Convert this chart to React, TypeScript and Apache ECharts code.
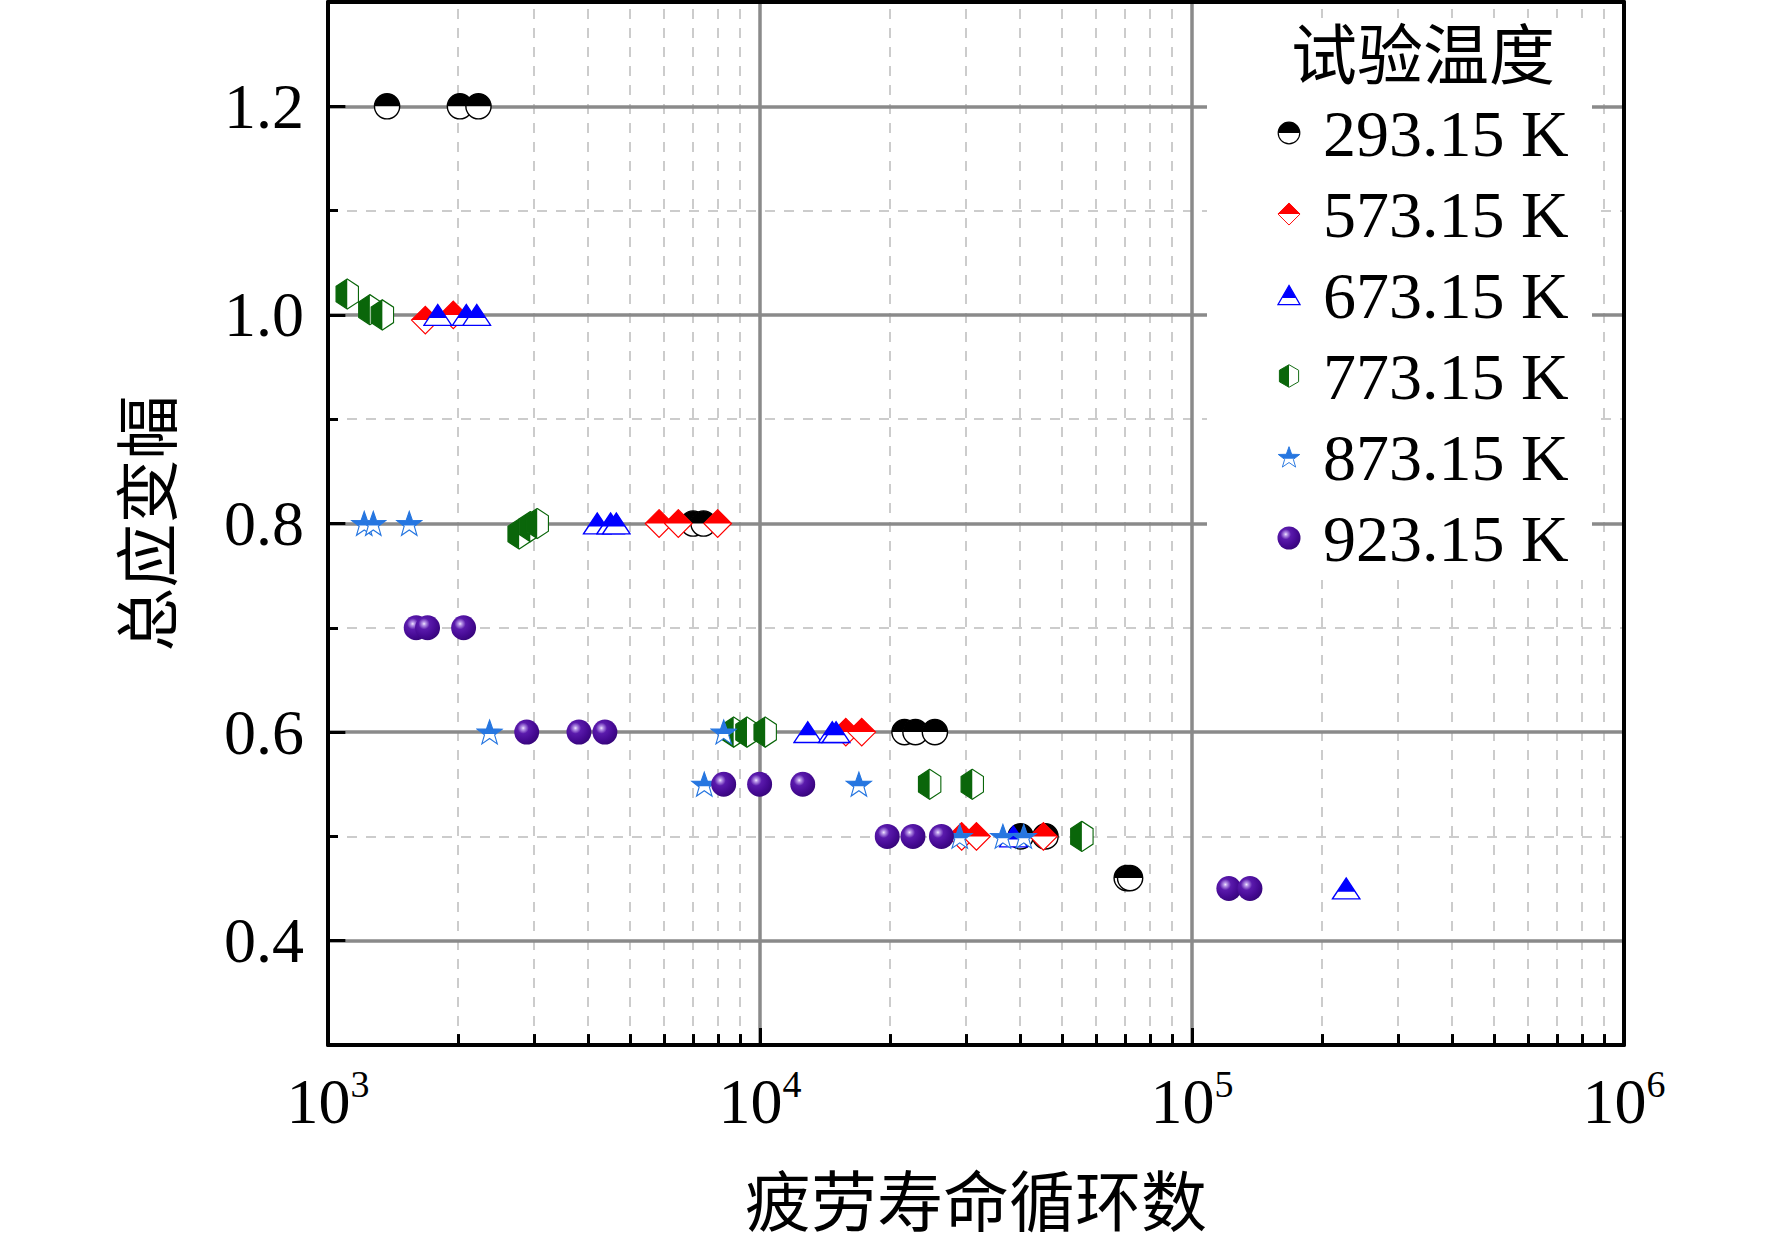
import React, { useEffect, useRef } from 'react';
import * as echarts from 'echarts';

const W = 1772;
const H = 1247;

const seriesNames = ['293.15 K', '573.15 K', '673.15 K', '773.15 K', '873.15 K', '923.15 K'];

// [fatigue life (cycles), total strain amplitude]
const data293 = [
  [1370, 1.2], [2020, 1.2], [2230, 1.2],
  [7000, 0.8], [7400, 0.8],
  [21600, 0.6], [22900, 0.6], [25400, 0.6],
  [40100, 0.5], [45800, 0.5],
  [70600, 0.46], [71900, 0.46],
];
const data573 = [
  [1680, 0.995], [1950, 1.0],
  [5840, 0.8], [6470, 0.8], [7980, 0.8],
  [15800, 0.6], [17200, 0.6],
  [29300, 0.5], [31700, 0.5], [45300, 0.5],
];
const data673 = [
  [1795, 1.0], [2090, 1.0], [2210, 1.0],
  [4200, 0.8], [4510, 0.8], [4650, 0.8],
  [12900, 0.6], [14700, 0.6], [15000, 0.6],
  [38600, 0.5],
  [227500, 0.45],
];
const data773 = [
  [1108, 1.02], [1250, 1.005], [1336, 1.0],
  [2770, 0.79], [2940, 0.797], [3050, 0.8],
  [8690, 0.6], [9330, 0.6], [10280, 0.6],
  [24700, 0.55], [31000, 0.55],
  [55600, 0.5],
];
const data873 = [
  [1213, 0.8], [1273, 0.8], [1542, 0.8],
  [2366, 0.6], [8240, 0.6],
  [7430, 0.55], [16940, 0.55],
  [29000, 0.5], [36500, 0.5], [40800, 0.5],
];
const data923 = [
  [1600, 0.7], [1700, 0.7], [2060, 0.7],
  [2884, 0.6], [3810, 0.6], [4375, 0.6],
  [8240, 0.55], [9980, 0.55], [12560, 0.55],
  [19700, 0.5], [22600, 0.5], [26300, 0.5],
  [121700, 0.45], [136200, 0.45],
];

const xMajor = [10000, 100000];
const xMinor = [2000, 3000, 4000, 5000, 6000, 7000, 8000, 9000,
  20000, 30000, 40000, 50000, 60000, 70000, 80000, 90000,
  200000, 300000, 400000, 500000, 600000, 700000, 800000, 900000];
const yMajor = [0.4, 0.6, 0.8, 1.0, 1.2];
const yMinor = [0.5, 0.7, 0.9, 1.1];

const SERIF = '"Liberation Serif", "Times New Roman", serif';
const CJK = '"Noto Sans CJK SC", sans-serif';

const url = (svg: string) =>
  'image://data:image/svg+xml;charset=utf-8,' + encodeURIComponent(svg);

const NS = 'xmlns="http://www.w3.org/2000/svg"';

const symCircle = url(
  `<svg ${NS} viewBox="0 0 100 100"><circle cx="50" cy="50" r="45" fill="#fff" stroke="#000" stroke-width="5"/><path d="M5 50 A45 45 0 0 1 95 50 Z" fill="#000"/></svg>`
);
const symDiamond = url(
  `<svg ${NS} viewBox="0 0 100 100"><polygon points="50,4 96,50 50,96 4,50" fill="#fff" stroke="#f00" stroke-width="4"/><polygon points="50,4 96,50 4,50" fill="#f00"/></svg>`
);
const symTriangle = url(
  `<svg ${NS} viewBox="0 0 100 88"><polygon points="50,4 96,84 4,84" fill="#fff" stroke="#00f" stroke-width="5"/><polygon points="50,4 80,56 20,56" fill="#00f"/></svg>`
);
const symHex = url(
  `<svg ${NS} viewBox="0 0 88 100"><polygon points="44,3 84,26 84,74 44,97 4,74 4,26" fill="#fff" stroke="#0a660a" stroke-width="4"/><polygon points="44,3 4,26 4,74 44,97" fill="#0a660a"/></svg>`
);
const starPts = (() => {
  const pts: string[] = [];
  for (let i = 0; i < 10; i++) {
    const r = i % 2 === 0 ? 47 : 19;
    const a = -Math.PI / 2 + (i * Math.PI) / 5;
    pts.push(`${(50 + r * Math.cos(a)).toFixed(2)},${(54 + r * Math.sin(a)).toFixed(2)}`);
  }
  return pts.join(' ');
})();
const symStar = url(
  `<svg ${NS} viewBox="0 0 100 100"><defs><clipPath id="c"><rect x="0" y="0" width="100" height="57"/></clipPath></defs><polygon points="${starPts}" fill="#fff" stroke="#2676e0" stroke-width="4"/><polygon points="${starPts}" fill="#2676e0" clip-path="url(#c)"/></svg>`
);
const symSphere = url(
  `<svg ${NS} viewBox="0 0 100 100"><defs><radialGradient id="g" cx="0.36" cy="0.34" r="0.7"><stop offset="0" stop-color="#f2eaff"/><stop offset="0.1" stop-color="#b896e8"/><stop offset="0.32" stop-color="#5a1aac"/><stop offset="0.7" stop-color="#460a94"/><stop offset="1" stop-color="#36057a"/></radialGradient></defs><circle cx="50" cy="50" r="48" fill="url(#g)"/></svg>`
);

const symbols = [symCircle, symDiamond, symTriangle, symHex, symStar, symSphere];
const sizes: any[] = [28, 30, [30, 26], [28, 32], 28, 26];
const allData = [data293, data573, data673, data773, data873, data923];

const X_MIN = 1000;
const X_MAX = 1000000;
const Y_MIN = 0.3;
const Y_MAX = 1.3;

export default function App() {
  const ref = useRef<HTMLDivElement>(null);
  useEffect(() => {
    if (!ref.current) return;
    const chart = echarts.init(ref.current, undefined, { renderer: 'svg', width: W, height: H });

    const majorStyle = { color: '#8a8a8a', width: 3.5, type: 'solid' };
    const minorStyle = { color: '#cccccc', width: 2, type: [10, 9] };
    const tickStyle = { color: '#000', width: 3, type: 'solid' };

    const lines: any[] = [];
    yMinor.forEach((v) => lines.push({ yAxis: v, lineStyle: minorStyle }));
    xMinor.forEach((v) => lines.push({ xAxis: v, lineStyle: minorStyle }));
    yMajor.forEach((v) => lines.push({ yAxis: v, lineStyle: majorStyle }));
    xMajor.forEach((v) => lines.push({ xAxis: v, lineStyle: majorStyle }));
    // minor x ticks (inside, bottom)
    xMinor.forEach((v) =>
      lines.push([
        { coord: [v, Y_MIN], lineStyle: tickStyle },
        { coord: [v, Y_MIN + 0.0105] },
      ])
    );
    // longer major y ticks (inside, left)
    yMajor.forEach((v) =>
      lines.push([
        { coord: [X_MIN, v], lineStyle: tickStyle },
        { coord: [X_MIN * 1.097, v] },
      ])
    );

    const scatter = seriesNames.map((name, i) => ({
      type: 'scatter',
      name,
      data: allData[i],
      symbol: symbols[i],
      symbolSize: sizes[i],
      z: 3,
      xAxisIndex: 0,
      yAxisIndex: 0,
      itemStyle: { opacity: 1 },
      emphasis: { disabled: true },
    }));

    const option: any = {
      animation: false,
      backgroundColor: '#fff',
      grid: { left: 328, right: 148, top: 2, bottom: 202, containLabel: false },
      xAxis: [
        {
          type: 'log',
          logBase: 10,
          min: X_MIN,
          max: X_MAX,
          splitNumber: 3,
          z: 10,
          axisLine: { show: true, lineStyle: { color: '#000', width: 4 } },
          axisTick: { show: true, inside: true, length: 17, lineStyle: { color: '#000', width: 3 } },
          splitLine: { show: false },
          minorTick: { show: false },
          axisLabel: {
            margin: 20,
            formatter: (v: number) => `{b|10}{s|${Math.round(Math.log10(v))}}`,
            rich: {
              b: { fontSize: 64, fontFamily: SERIF, color: '#000', lineHeight: 72 },
              s: { fontSize: 38, fontFamily: SERIF, color: '#000', lineHeight: 72, verticalAlign: 'top' },
            },
          },
          name: '疲劳寿命循环数',
          nameLocation: 'middle',
          nameGap: 119,
          nameTextStyle: { fontSize: 66, fontFamily: CJK, color: '#000' },
        },
        {
          type: 'log',
          logBase: 10,
          min: X_MIN,
          max: X_MAX,
          position: 'top',
          z: 10,
          axisLine: { show: true, lineStyle: { color: '#000', width: 4 } },
          axisTick: { show: false },
          axisLabel: { show: false },
          splitLine: { show: false },
        },
      ],
      yAxis: [
        {
          type: 'value',
          min: Y_MIN,
          max: Y_MAX,
          interval: 0.1,
          z: 10,
          axisLine: { show: true, lineStyle: { color: '#000', width: 4 } },
          axisTick: { show: true, inside: true, length: 10, lineStyle: { color: '#000', width: 3 } },
          splitLine: { show: false },
          axisLabel: {
            margin: 24,
            fontSize: 64,
            fontFamily: SERIF,
            color: '#000',
            formatter: (v: number) => {
              const k = Math.round(v * 10);
              return k % 2 === 0 && k >= 4 && k <= 12 ? (k / 10).toFixed(1) : '';
            },
          },
          name: '总应变幅',
          nameLocation: 'middle',
          nameRotate: 90,
          nameGap: 153,
          nameTextStyle: { fontSize: 64, fontFamily: CJK, color: '#000' },
        },
        {
          type: 'value',
          min: Y_MIN,
          max: Y_MAX,
          interval: 0.1,
          position: 'right',
          z: 10,
          axisLine: { show: true, lineStyle: { color: '#000', width: 4 } },
          axisTick: { show: false },
          axisLabel: { show: false },
          splitLine: { show: false },
        },
      ],
      legend: {
        orient: 'vertical',
        left: 1277,
        top: 98,
        padding: 0,
        z: 6,
        itemWidth: 24,
        itemHeight: 24,
        itemGap: 11,
        selectedMode: false,
        data: seriesNames.map((n, i) => ({ name: n, icon: symbols[i] })),
        textStyle: {
          fontSize: 66,
          fontFamily: SERIF,
          color: '#000',
          lineHeight: 70,
          padding: [0, 0, 0, 17],
        },
      },
      graphic: {
        elements: [
          {
            type: 'rect',
            z: 5,
            silent: true,
            shape: { x: 1207, y: 18, width: 385, height: 562 },
            style: { fill: '#fff' },
          },
          {
            type: 'text',
            z: 7,
            silent: true,
            x: 1423,
            y: 50,
            style: {
              text: '试验温度',
              font: `66px ${CJK}`,
              fill: '#000',
              textAlign: 'center',
              textVerticalAlign: 'middle',
            },
          },
        ],
      },
      series: [
        {
          type: 'line',
          name: '__grid',
          data: [],
          xAxisIndex: 0,
          yAxisIndex: 0,
          z: 1,
          silent: true,
          markLine: {
            z: 1,
            silent: true,
            symbol: ['none', 'none'],
            animation: false,
            label: { show: false },
            emphasis: { disabled: true },
            data: lines,
          },
        },
        ...scatter,
      ],
    };

    chart.setOption(option);
    return () => chart.dispose();
  }, []);

  return (
    <div
      ref={ref}
      style={{ position: 'fixed', left: 0, top: 0, width: W, height: H, background: '#fff' }}
    />
  );
}
